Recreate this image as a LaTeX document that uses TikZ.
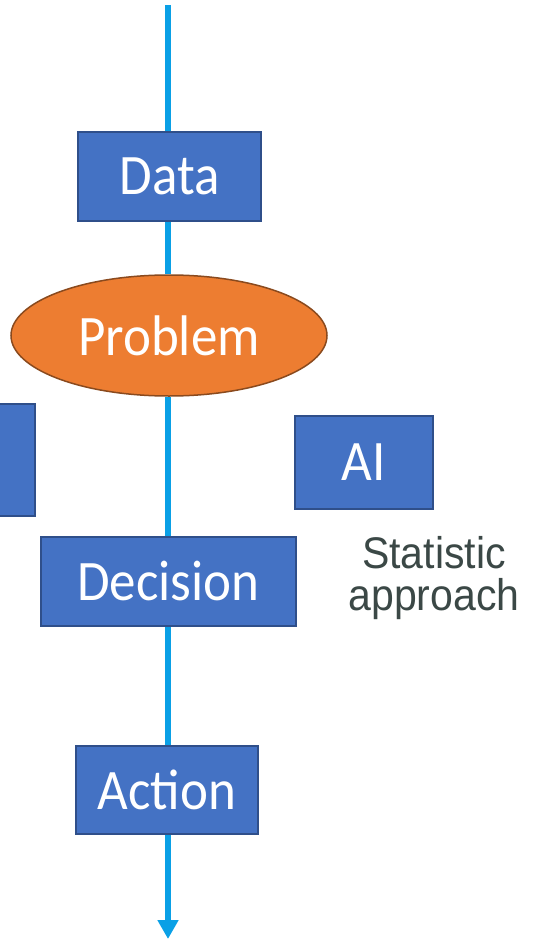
\documentclass[tikz,border=0pt]{standalone}
\usepackage{fontspec}
\usepackage{graphicx}
\setmainfont{Carlito}
\newfontfamily\arialfont{Liberation Sans}
\usetikzlibrary{arrows.meta,shapes.geometric}
\definecolor{boxblue}{HTML}{4472C4}
\definecolor{boxedge}{HTML}{2F4F8A}
\definecolor{probfill}{HTML}{ED7D31}
\definecolor{probedge}{HTML}{8A4A1E}
\definecolor{flow}{HTML}{0AA0E6}
\definecolor{note}{HTML}{3B4846}
\newcommand{\tallt}[1]{\scalebox{1}[1.08]{#1}}
\tikzset{
  x=1pt, y=-1pt,
  bluebox/.style={draw=boxedge, line width=1.5pt, fill=boxblue, text=white, inner sep=0pt, font=\fontsize{53}{60}\selectfont},
  flowline/.style={draw=flow, line width=6pt},
}
\begin{document}
\begin{tikzpicture}
\useasboundingbox (0,0) rectangle (543,939);
\coordinate (top) at (168,5);
\coordinate (bottom) at (168,939);
\node[bluebox, minimum width=183pt, minimum height=89pt] (data) at (169.5,176.5) {\tallt{Data}};
\node[ellipse, draw=probedge, line width=1.5pt, fill=probfill, text=white, inner sep=0pt, minimum width=316pt, minimum height=121pt, font=\fontsize{53}{60}\selectfont] (problem) at (169,335.5) {\tallt{Problem}};
\node[bluebox, minimum width=112pt, minimum height=112pt] (left) at (-21,460) {};
\node[bluebox, minimum width=138pt, minimum height=93pt] (ai) at (364,462.5) {\tallt{AI}};
\node[bluebox, minimum width=255pt, minimum height=89pt] (decision) at (168.5,581.5) {\tallt{Decision}};
\node[bluebox, minimum width=182pt, minimum height=88pt] (action) at (167,790) {\tallt{Action}};
\node[text=note, align=center, inner sep=0pt, font=\arialfont\fontsize{41}{42}\selectfont] (stat) at (434,578) {\tallt{Statistic}\\\tallt{approach}};
\path[flowline] (top) -- (data.north -| top);
\path[flowline] (data.south -| top) -- (problem.north -| top);
\path[flowline] (problem.south -| top) -- (decision.north -| top);
\path[flowline] (decision.south -| top) -- (action.north -| top);
\path[flowline, -{Triangle[width=20pt,length=19pt]}] (action.south -| top) -- (bottom);
\end{tikzpicture}
\end{document}
